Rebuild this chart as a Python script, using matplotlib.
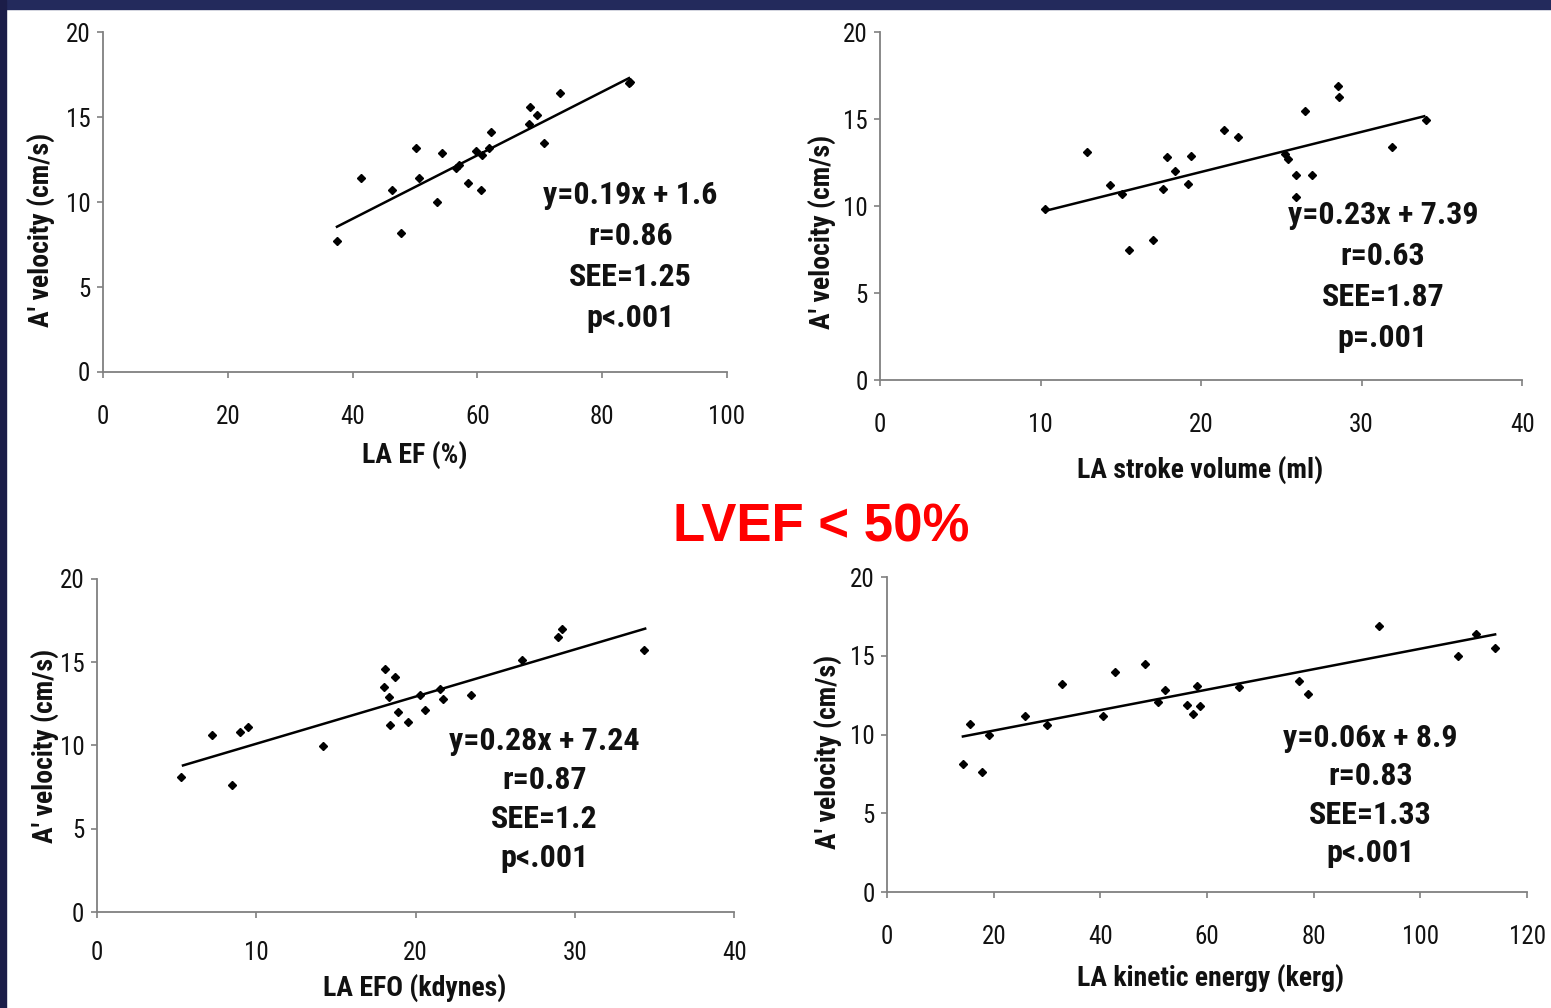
import matplotlib
matplotlib.use("Agg")
import matplotlib.pyplot as plt
from matplotlib.patches import Rectangle

plt.rcParams['font.family'] = ['Roboto Condensed', 'Liberation Sans Narrow', 'Liberation Sans', 'DejaVu Sans']

# panel 1 : LA EF (%)
ef_x = [37.5, 41.3, 46.3, 47.7, 50.2, 50.7, 53.6, 54.4, 56.5, 57.1, 58.5, 59.8, 60.6,
        60.8, 62.2, 61.8, 68.4, 68.2, 69.5, 70.6, 73.2, 84.3, 84.4]
ef_y = [7.7, 11.4, 10.7, 8.2, 13.2, 11.4, 10.0, 12.9, 12.0, 12.2, 11.1, 13.0, 10.7,
        12.8, 14.1, 13.2, 15.6, 14.6, 15.1, 13.5, 16.4, 17.0, 17.1]
ef_line_x = [37.5, 84.3]
ef_line_y = [8.55, 17.3]
ef_text = ["y=0.19x + 1.6", "r=0.86", "SEE=1.25", "p<.001"]

# panel 2 : LA stroke volume (ml)
sv_x = [10.3, 12.9, 14.3, 15.1, 15.5, 17.0, 17.6, 17.9, 18.4, 19.2, 19.4, 21.4, 22.3,
        25.2, 25.4, 25.9, 25.9, 26.9, 26.5, 28.5, 28.6, 31.9, 34.0]
sv_y = [9.85, 13.1, 11.2, 10.7, 7.5, 8.05, 11.0, 12.8, 12.0, 11.3, 12.9, 14.4, 14.0,
        13.0, 12.7, 11.8, 10.5, 11.8, 15.5, 16.9, 16.3, 13.4, 14.95]
sv_line_x = [10.3, 33.9]
sv_line_y = [9.73, 15.17]
sv_text = ["y=0.23x + 7.39", "r=0.63", "SEE=1.87", "p=.001"]

# panel 3 : LA EFO (kdynes)
efo_x = [5.3, 7.2, 8.5, 9.0, 9.5, 14.2, 18.0, 18.1, 18.3, 18.4, 18.7, 18.9, 19.5,
         20.3, 20.6, 21.5, 21.7, 23.5, 26.7, 28.9, 29.2, 34.3]
efo_y = [8.1, 10.65, 7.65, 10.8, 11.1, 9.95, 13.5, 14.6, 12.9, 11.2, 14.1, 12.0, 11.4,
         13.0, 12.1, 13.4, 12.8, 13.0, 15.1, 16.5, 17.0, 15.7]
efo_line_x = [5.4, 34.4]
efo_line_y = [8.8, 17.0]
efo_text = ["y=0.28x + 7.24", "r=0.87", "SEE=1.2", "p<.001"]

# panel 4 : LA kinetic energy (kerg)
ke_x = [14.3, 15.5, 17.7, 19.1, 25.8, 30.0, 32.7, 40.4, 42.7, 48.4, 50.7, 52.1, 56.3,
        57.3, 58.1, 58.6, 65.9, 77.3, 78.9, 92.2, 107.1, 110.5, 113.9]
ke_y = [8.15, 10.7, 7.6, 9.95, 11.2, 10.6, 13.2, 11.2, 14.0, 14.5, 12.1, 12.8, 11.9,
        11.3, 13.1, 11.8, 13.0, 13.4, 12.6, 16.9, 15.0, 16.4, 15.5]
ke_line_x = [14.2, 114.0]
ke_line_y = [9.88, 16.36]
ke_text = ["y=0.06x + 8.9", "r=0.83", "SEE=1.33", "p<.001"]

ylab = "A' velocity (cm/s)"

fig = plt.figure(figsize=(15.51, 10.08), dpi=100)
fig.patch.set_facecolor('white')

# slide border (top band and left strip)
fig.add_artist(Rectangle((0, 1 - 9 / 1008), 1, 9 / 1008, transform=fig.transFigure,
                         color='#232a5c', zorder=0))
fig.add_artist(Rectangle((0, 0), 6 / 1551, 1, transform=fig.transFigure,
                         color='#1b1d48', zorder=0))

panels = [
    # rect, x, y, line x, line y, text, xmax, xstep, xlabel, text pos, ylabel pos, xlabel pos, xpad
    ([0.0664, 0.631, 0.4023, 0.337], ef_x, ef_y, ef_line_x, ef_line_y, ef_text, 100, 20,
     "LA EF (%)", (0.845, 0.52, 0.12), (-0.10, 0.418), (0.50, -0.244), 20),
    ([0.5674, 0.623, 0.414, 0.345], sv_x, sv_y, sv_line_x, sv_line_y, sv_text, 40, 10,
     "LA stroke volume (ml)", (0.783, 0.474, 0.118), (-0.09, 0.425), (0.498, -0.259), 20),
    ([0.0625, 0.095, 0.411, 0.331], efo_x, efo_y, efo_line_x, efo_line_y, efo_text, 40, 10,
     "LA EFO (kdynes)", (0.702, 0.512, 0.116), (-0.082, 0.5), (0.498, -0.228), 17),
    ([0.572, 0.115, 0.4126, 0.3125], ke_x, ke_y, ke_line_x, ke_line_y, ke_text, 120, 20,
     "LA kinetic energy (kerg)", (0.755, 0.489, 0.122), (-0.092, 0.444), (0.505, -0.273), 20),
]

for rect, xs, ys, lx, ly, txt, xmax, xstep, xlab, tpos, ypos, xpos, xpad in panels:
    ax = fig.add_axes(rect)
    ax.plot(xs, ys, linestyle='none', marker='D', ms=4.2, color='black', zorder=3)
    ax.plot(lx, ly, color='black', lw=1.8, zorder=2)
    ax.set_xlim(0, xmax)
    ax.set_ylim(0, 20)
    ax.set_xticks(range(0, xmax + 1, xstep))
    ax.set_yticks([0, 5, 10, 15, 20])
    for s in ['top', 'right']:
        ax.spines[s].set_visible(False)
    for s in ['left', 'bottom']:
        ax.spines[s].set_color('#808080')
        ax.spines[s].set_linewidth(1.3)
    ax.tick_params(axis='both', colors='#808080', length=4, width=1.2, labelsize=18,
                   labelcolor='#111111')
    ax.tick_params(axis='x', pad=xpad)
    ax.tick_params(axis='y', pad=5)
    ax.set_ylabel(ylab, fontsize=20, color='#111111', va='center', fontweight='bold')
    ax.yaxis.set_label_coords(*ypos)
    ax.set_xlabel(xlab, fontsize=20, color='#111111', va='center', fontweight='bold')
    ax.xaxis.set_label_coords(*xpos)
    tx, ty, step = tpos
    for i, line in enumerate(txt):
        ax.text(tx, ty - i * step, line, transform=ax.transAxes, ha='center',
                va='center', fontsize=23, color='#111111', fontweight='bold')

fig.text(821 / 1551, 1 - 528 / 1008, "LVEF < 50%", ha='center', va='center',
         fontsize=38, fontweight='bold', color='#ff0000',
         family=['Liberation Sans', 'DejaVu Sans'])

fig.savefig('out.png', dpi=100)
